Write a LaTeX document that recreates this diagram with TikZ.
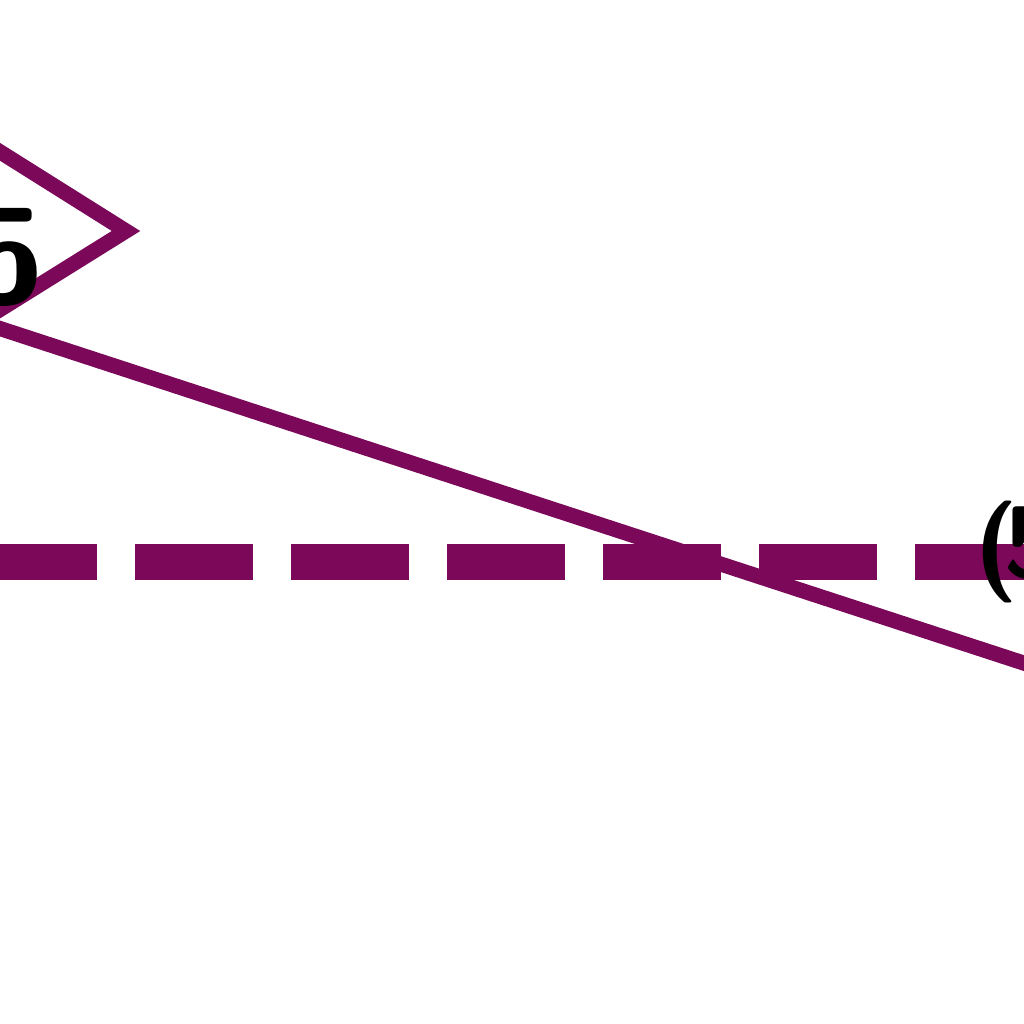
\documentclass[tikz,border=0pt]{standalone}
\usepackage{xcolor}
\usepackage{tikz}
\usetikzlibrary{positioning,calc}
\definecolor{plum}{RGB}{123,8,88}
\tikzset{
  trail/.style = {draw=plum, line width=4.3pt, line join=miter},
  guide/.style = {draw=plum, line width=10.2pt, dash pattern=on 1.18cm off 0.38cm},
  lbl/.style   = {inner sep=0pt, text=black}
}

\begin{document}
\begin{tikzpicture}
      \useasboundingbox (0,0) rectangle (10.24,10.24);
      \clip (0,0) rectangle (10.24,10.24);
      \coordinate (P) at (-1.00, 9.35);
      \coordinate (Q) at (1.26, 7.93);
      \coordinate (R) at (-0.20, 7.02);
      \coordinate (S) at (11.00, 3.36);
      \coordinate (gl) at (-0.21, 4.62);
      \coordinate (gr) at (10.60, 4.62);
      \draw[guide] (gl) -- (gr);
      \draw[trail] (P) -- (Q) -- (R) -- (S);
      \node[lbl, anchor=base east, font=\sffamily\bfseries\fontsize{39}{42}\selectfont] (five) at (0.46, 7.20) {5};
      \node[lbl, anchor=base west, font=\sffamily\bfseries\fontsize{29}{32}\selectfont] (pair) at (9.74, 4.46) {(\kern-0.14em5};
    \end{tikzpicture}
\end{document}
